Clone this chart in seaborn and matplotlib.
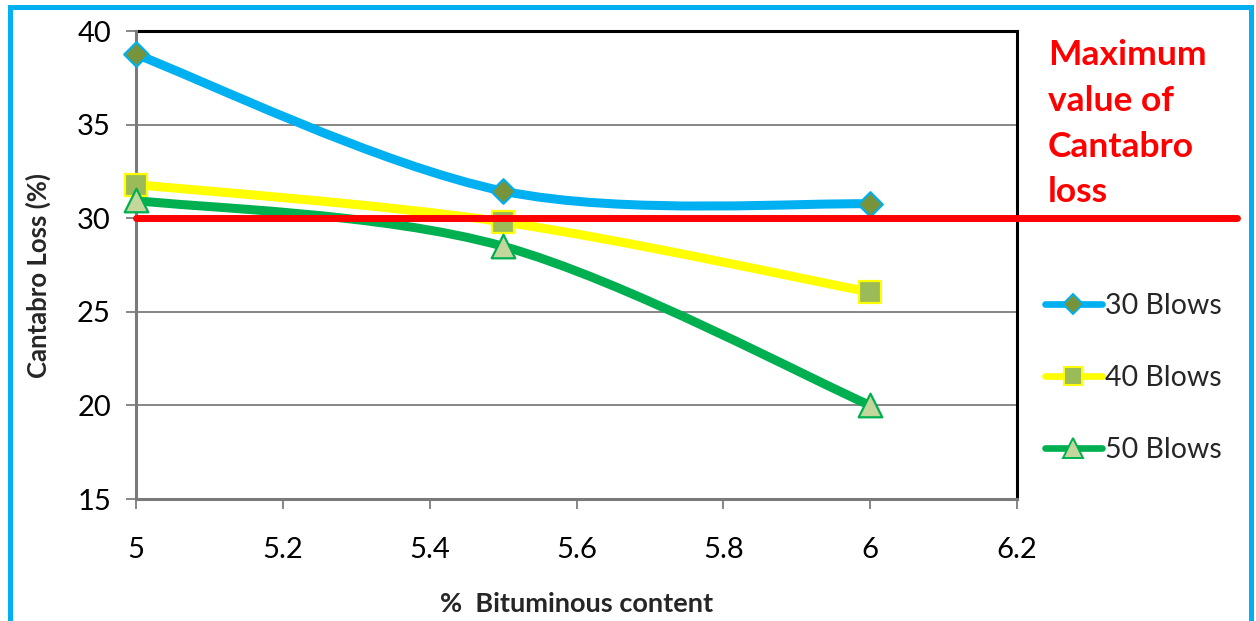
import numpy as np
import pandas as pd
import matplotlib
matplotlib.use("Agg")
import matplotlib.pyplot as plt
from matplotlib.path import Path
from matplotlib.patches import PathPatch, Rectangle
from matplotlib.lines import Line2D
import seaborn as sns

# Bituminous content (%) and Cantabro loss (%) for each compaction level
bitumen = [5.0, 5.5, 6.0]
loss_30_blows = [38.75, 31.45, 30.76]
loss_40_blows = [31.8, 29.8, 26.05]
loss_50_blows = [30.95, 28.5, 20.0]
series_names = ["30 Blows", "40 Blows", "50 Blows"]
max_loss = 30
max_loss_note = ["Maximum", "value of", "Cantabro", "loss"]

x_ticks = [5.0, 5.2, 5.4, 5.6, 5.8, 6.0, 6.2]
x_tick_labels = ["5", "5.2", "5.4", "5.6", "5.8", "6", "6.2"]
y_ticks = [15, 20, 25, 30, 35, 40]
y_tick_labels = ["15", "20", "25", "30", "35", "40"]

sns.set_theme(style="white")
plt.rcParams["font.family"] = ["Lato", "DejaVu Sans"]

df = pd.DataFrame({
    "bitumen": bitumen * 3,
    "loss": loss_30_blows + loss_40_blows + loss_50_blows,
    "series": [n for n in series_names for _ in bitumen],
})

styles = {
    "30 Blows": dict(line="#00B0F0", marker="D", ms=12.5, face="#77933C", edge="#00B0F0", lms=10),
    "40 Blows": dict(line="#FFFF00", marker="s", ms=16.5, face="#9BBB59", edge="#FFFF00", lms=13),
    "50 Blows": dict(line="#00B050", marker="^", ms=17.0, face="#C3D69B", edge="#00B050", lms=14),
}

fig = plt.figure(figsize=(12.56, 6.21), dpi=100)
ax = fig.add_axes([136 / 1256, 1 - 499 / 621, 881 / 1256, 468 / 621])


def smooth_path(xs, ys):
    """Cubic Bezier path through the points (Catmull-Rom style tangents)."""
    pts = np.column_stack([xs, ys]).astype(float)
    n = len(pts)
    verts = [pts[0]]
    codes = [Path.MOVETO]
    for i in range(n - 1):
        p0 = pts[i - 1] if i > 0 else pts[i]
        p1 = pts[i]
        p2 = pts[i + 1]
        p3 = pts[i + 2] if i + 2 < n else pts[i + 1]
        c1 = p1 + (p2 - p0) / 6.0
        c2 = p2 - (p3 - p1) / 6.0
        verts += [c1, c2, p2]
        codes += [Path.CURVE4] * 3
    return Path(verts, codes)


for name in series_names:
    st = styles[name]
    sub = df[df["series"] == name]
    ax.add_patch(PathPatch(smooth_path(sub["bitumen"], sub["loss"]), fill=False,
                           edgecolor=st["line"], linewidth=6.5, clip_on=False,
                           capstyle="round", joinstyle="round", zorder=3))
    sns.scatterplot(data=sub, x="bitumen", y="loss", ax=ax, marker=st["marker"],
                    s=st["ms"] ** 2, color=st["face"], edgecolor=st["edge"],
                    linewidth=1.6, zorder=4, legend=False, clip_on=False)

# limit line for the maximum allowed Cantabro loss
ax.axhline(max_loss, xmin=0, xmax=1.25, color="#FF0000", linewidth=5,
           clip_on=False, zorder=5)

ax.set_xlim(5.0, 6.2)
ax.set_ylim(15, 40)
ax.set_xticks(x_ticks)
ax.set_xticklabels(x_tick_labels)
ax.set_yticks(y_ticks)
ax.set_yticklabels(y_tick_labels)
ax.set_xlabel("")
ax.set_ylabel("")

ax.yaxis.grid(True, color="#868686", linewidth=1.4)
ax.xaxis.grid(False)
ax.set_axisbelow(True)

for side in ["left", "bottom"]:
    ax.spines[side].set_color("#7a7a7a")
    ax.spines[side].set_linewidth(2.2)
for side in ["top", "right"]:
    ax.spines[side].set_color("black")
    ax.spines[side].set_linewidth(2.2)
    ax.spines[side].set_zorder(2)

ax.tick_params(axis="y", direction="out", length=7, width=1.4, color="#868686",
               pad=11, labelsize=21, labelcolor="black", left=True)
ax.tick_params(axis="x", direction="out", length=7, width=1.4, color="#868686",
               pad=20, labelsize=21, labelcolor="black", bottom=True)

fig.text(38 / 1256, 1 - 275 / 621, "Cantabro Loss (%)", rotation=90,
         ha="center", va="center", fontsize=18.5, fontweight="bold")
fig.text(577 / 1256, 1 - 604 / 621, "%  Bituminous content",
         ha="center", va="center", fontsize=19.5, fontweight="bold")

for line, base in zip(max_loss_note, [65, 111, 157, 202]):
    fig.text(1048 / 1256, 1 - base / 621, line, ha="left", va="baseline",
             fontsize=25.5, fontweight="bold", color="#FF0000")

handles = [
    Line2D([], [], color=styles[n]["line"], linewidth=4.8, marker=styles[n]["marker"],
           markersize=styles[n]["lms"], markerfacecolor=styles[n]["face"],
           markeredgecolor=styles[n]["edge"], markeredgewidth=1.4)
    for n in series_names
]
fig.legend(handles, series_names, loc="center left",
           bbox_to_anchor=(1045 / 1256, 1 - 378 / 621), frameon=False,
           fontsize=20.5, handlelength=2.0, handletextpad=0.1, labelspacing=1.6,
           borderpad=0, borderaxespad=0)

# outer frame of the figure
fig.patches.append(Rectangle((10 / 1256, -0.05), 1241 / 1256, 1.05 - 6.5 / 621,
                             transform=fig.transFigure, fill=False,
                             edgecolor="#00B0F0", linewidth=3.6, zorder=10))

fig.savefig("out.png", dpi=100)
